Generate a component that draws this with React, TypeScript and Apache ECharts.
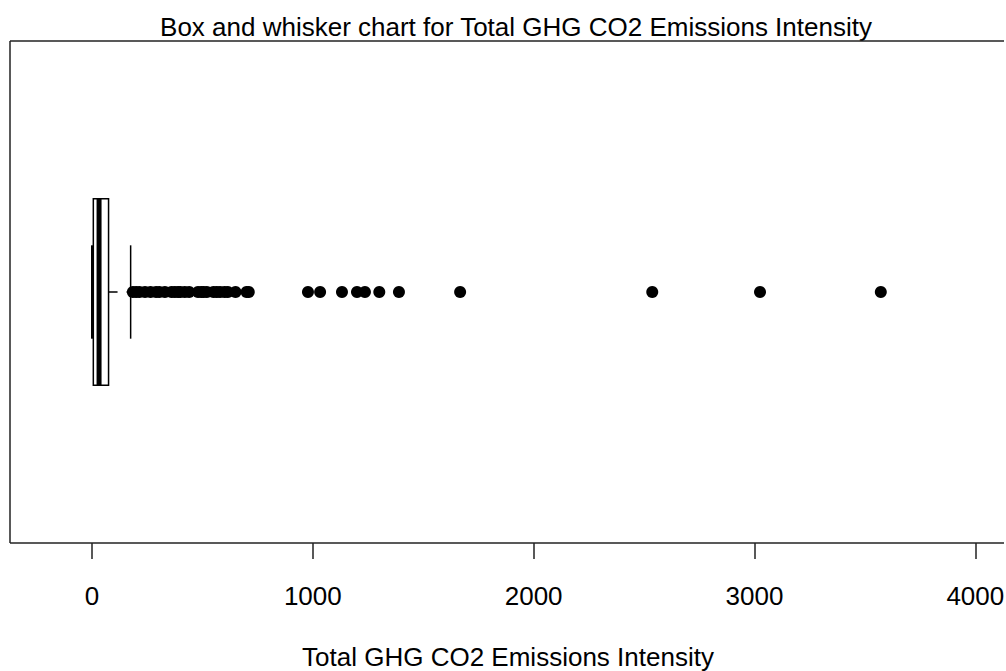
import React, { useEffect, useRef } from "react";
import * as echarts from "echarts";

// Five-number summary of the box (whisker ends, quartiles, median)
const category = ["Total GHG CO2 Emissions Intensity"];
const lowerWhisker = 0;
const firstQuartile = 6;
const median = 32;
const thirdQuartile = 75;
const upperWhisker = 175;

// Points beyond the upper whisker
const outliers = [
  185, 200, 215, 240, 265, 290, 305, 330, 360, 375, 390, 400, 420, 440, 480,
  495, 505, 520, 550, 565, 580, 600, 615, 650, 700, 710, 978, 1033, 1132,
  1200, 1236, 1301, 1390, 1667, 2537, 3025, 3572,
];

// Tick labels on the value axis
const tickValues = [0, 1000, 2000, 3000, 4000];

const FONT = "'Liberation Sans', Arial, sans-serif";
const INK = "#000";
const FRAME = "#222";

// Plot frame: open on the right, where it runs past the page edge
const GRID_LEFT = 10;
const GRID_TOP = 41;
const GRID_BOTTOM_Y = 543;
const FRAME_END = 1004;
const WIDTH = 1006;
const HEIGHT = 671;

const frameStyle = { stroke: FRAME, lineWidth: 1.5 };

export default function App() {
  const ref = useRef<HTMLDivElement>(null);

  useEffect(() => {
    if (!ref.current) return;
    const chart = echarts.init(ref.current, null, { renderer: "svg" });

    const boxData = [
      [0, lowerWhisker, firstQuartile, median, thirdQuartile, upperWhisker],
    ];

    chart.setOption({
      animation: false,
      backgroundColor: "#fff",
      title: {
        text: "Box and whisker chart for Total GHG CO2 Emissions Intensity",
        left: 511,
        top: 9,
        textAlign: "center",
        textStyle: {
          fontFamily: FONT,
          fontSize: 26,
          fontWeight: "normal",
          color: INK,
        },
      },
      graphic: [
        {
          type: "line",
          silent: true,
          z: 10,
          shape: { x1: GRID_LEFT, y1: GRID_TOP, x2: FRAME_END, y2: GRID_TOP },
          style: frameStyle,
        },
        {
          type: "line",
          silent: true,
          z: 10,
          shape: { x1: GRID_LEFT, y1: GRID_BOTTOM_Y, x2: FRAME_END, y2: GRID_BOTTOM_Y },
          style: frameStyle,
        },
        {
          type: "line",
          silent: true,
          z: 10,
          shape: { x1: GRID_LEFT, y1: GRID_TOP, x2: GRID_LEFT, y2: GRID_BOTTOM_Y },
          style: frameStyle,
        },
      ],
      grid: {
        show: false,
        left: GRID_LEFT,
        top: GRID_TOP,
        right: 0,
        bottom: HEIGHT - GRID_BOTTOM_Y,
        outerBoundsMode: "none",
        containLabel: false,
      },
      xAxis: {
        type: "value",
        min: -371.3,
        max: 4138.9,
        name: "Total GHG CO2 Emissions Intensity",
        nameLocation: "middle",
        nameGap: 101,
        nameTextStyle: { fontFamily: FONT, fontSize: 26, color: INK },
        axisLine: { show: false },
        splitLine: { show: false },
        axisTick: {
          show: true,
          inside: false,
          length: 16,
          customValues: tickValues,
          lineStyle: { color: FRAME, width: 1.5 },
        },
        axisLabel: {
          customValues: tickValues,
          formatter: (v: number) => String(v),
          margin: 40,
          fontFamily: FONT,
          fontSize: 26,
          color: INK,
        },
      },
      yAxis: {
        type: "category",
        data: category,
        axisLine: { show: false },
        axisTick: { show: false },
        axisLabel: { show: false },
        splitLine: { show: false },
      },
      series: [
        {
          type: "custom",
          data: boxData,
          encode: { x: [1, 2, 3, 4, 5], y: 0 },
          z: 2,
          renderItem: (params: any, api: any) => {
            const cat = api.value(0);
            const lo = api.coord([api.value(1), cat]);
            const q1 = api.coord([api.value(2), cat]);
            const med = api.coord([api.value(3), cat]);
            const q3 = api.coord([api.value(4), cat]);
            const hi = api.coord([api.value(5), cat]);
            const band = api.size([0, 1])[1];
            const half = band * 0.186;
            const cy = q1[1];
            const staple = half / 2;
            return {
              type: "group",
              children: [
                {
                  type: "line",
                  shape: { x1: q3[0], y1: cy, x2: hi[0], y2: cy },
                  style: { stroke: INK, lineWidth: 1.5, lineDash: [9, 9] },
                },
                {
                  type: "line",
                  shape: { x1: lo[0], y1: cy, x2: q1[0], y2: cy },
                  style: { stroke: INK, lineWidth: 1.5, lineDash: [9, 9] },
                },
                {
                  type: "line",
                  shape: { x1: lo[0], y1: cy - staple, x2: lo[0], y2: cy + staple },
                  style: { stroke: INK, lineWidth: 2 },
                },
                {
                  type: "line",
                  shape: { x1: hi[0], y1: cy - staple, x2: hi[0], y2: cy + staple },
                  style: { stroke: INK, lineWidth: 1.5 },
                },
                {
                  type: "rect",
                  shape: { x: q1[0], y: cy - half, width: q3[0] - q1[0], height: half * 2 },
                  style: { fill: "#fff", stroke: INK, lineWidth: 1.5 },
                },
                {
                  type: "line",
                  shape: { x1: med[0], y1: cy - half, x2: med[0], y2: cy + half },
                  style: { stroke: INK, lineWidth: 5 },
                },
              ],
            };
          },
        },
        {
          type: "scatter",
          data: outliers.map((v) => [v, 0]),
          symbol: "circle",
          symbolSize: 12,
          z: 3,
          itemStyle: { color: INK, opacity: 1 },
        },
      ],
    });

    return () => chart.dispose();
  }, []);

  return (
    <div
      ref={ref}
      style={{ position: "fixed", left: 0, top: 0, width: WIDTH, height: HEIGHT }}
    />
  );
}
